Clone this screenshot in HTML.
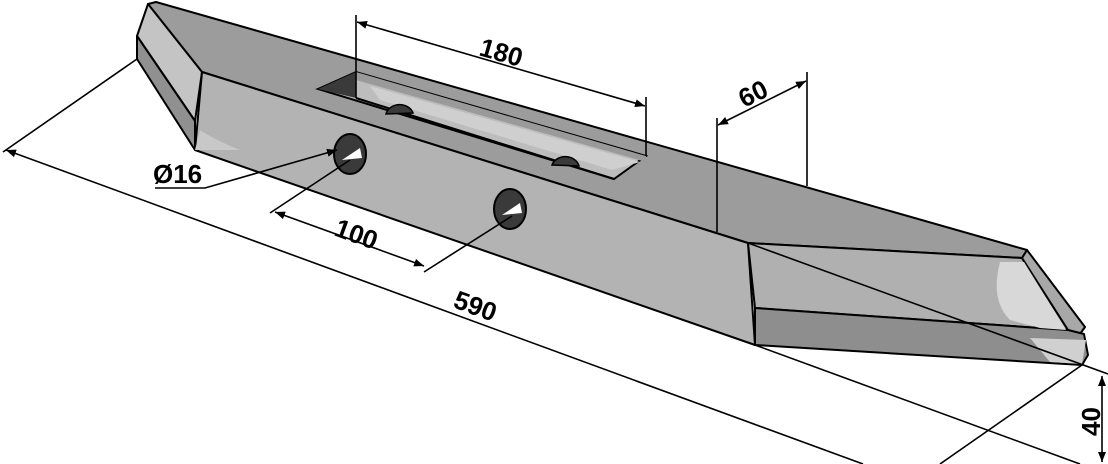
<!DOCTYPE html>
<html><head><meta charset="utf-8"><style>
html,body{margin:0;padding:0;background:#fff;}
svg{display:block;}
text{font-family:"Liberation Sans",sans-serif;font-weight:bold;font-size:26px;fill:#000;}
</style></head><body>
<svg width="1108" height="464" viewBox="0 0 1108 464" xmlns="http://www.w3.org/2000/svg">
<defs>
<marker id="a" viewBox="0 0 10 10" refX="10" refY="5" markerWidth="10" markerHeight="10" orient="auto-start-reverse" markerUnits="userSpaceOnUse"><path d="M0,1 L10,5 L0,9 z" fill="#000"/></marker>
</defs>
<g stroke="#000" stroke-width="2" stroke-linejoin="round">
<polygon points="148,4 156,2 1027,250 1022,258 748,243 202,72" fill="#9c9c9c"/>
<polygon points="148,4 137,36 195,121 202,72" fill="#c4c4c4"/>
<polygon points="137,36 137,59 195,150 195,121" fill="#909090"/>
<polygon points="202,72 748,243 755,345 195,150" fill="#b3b3b3"/>
<polygon points="748,243 1022,258 1068,330 755,308" fill="#b0b0b0"/>
<polygon points="1022,258 1027,250 1085,327 1080,334 1068,330" fill="#a8a8a8"/>
<polygon points="755,308 1068,330 1084,334 1088,355 1082,365 755,345" fill="#8e8e8e"/>
</g>
<path d="M1000,262 Q990,300 1010,320 L1040,328 L1066,330 L1024,262 z" fill="#d8d8d8"/>
<path d="M1030,338 Q1040,350 1050,362 L1082,364 L1086,340 z" fill="#d0d0d0"/>
<path d="M200,130 Q215,140 240,150 L195,150 z" fill="#c8c8c8"/>
<polygon points="318,89 356,72 646,156 614,179" fill="#bdbdbd" stroke="#000" stroke-width="2"/>
<polygon points="370,86 640,162 612,170 380,100" fill="#cfcfcf"/>
<polygon points="318,89 356,72 356,98" fill="#3a3a3a"/>
<polygon points="356,72 646,156 646,162 356,80" fill="#9a9a9a"/>
<line x1="356" y1="98" x2="614" y2="179" stroke="#000" stroke-width="2"/>
<path d="M386,114 A14,12 0 0 1 413,113 z" fill="#3a3a3a" stroke="#000" stroke-width="1.5"/>
<path d="M552,165 A14,12 0 0 1 579,166 z" fill="#3a3a3a" stroke="#000" stroke-width="1.5"/>
<ellipse cx="350" cy="154" rx="16" ry="20" fill="#3a3a3a" stroke="#000" stroke-width="2"/>
<path d="M342,160 L360,148 L362,158 z" fill="#fff"/>
<ellipse cx="510" cy="209" rx="16" ry="20" fill="#3a3a3a" stroke="#000" stroke-width="2"/>
<path d="M502,215 L520,203 L522,213 z" fill="#fff"/>
<g stroke="#000" stroke-width="1.6" fill="none">
<line x1="356" y1="15" x2="356" y2="98"/>
<line x1="646" y1="97" x2="646" y2="156"/>
<line x1="357" y1="22" x2="645" y2="106" marker-start="url(#a)" marker-end="url(#a)"/>
<line x1="717" y1="118" x2="717" y2="232"/>
<line x1="807" y1="72" x2="807" y2="186"/>
<line x1="718" y1="125" x2="806" y2="81" marker-start="url(#a)" marker-end="url(#a)"/>
<polyline points="155,188 205,188 337,150" marker-end="url(#a)"/>
<line x1="350" y1="160" x2="270" y2="213"/>
<line x1="512" y1="216" x2="424" y2="272"/>
<line x1="275" y1="212" x2="424" y2="266" marker-start="url(#a)" marker-end="url(#a)"/>
<line x1="137" y1="59" x2="3" y2="152"/>
<line x1="6" y1="150" x2="863" y2="464" marker-start="url(#a)"/>
<line x1="755" y1="345" x2="1080" y2="464"/>
<line x1="748" y1="243" x2="1108" y2="374"/>
<line x1="1082" y1="365" x2="940" y2="464"/>
<line x1="1102" y1="376" x2="1102" y2="462" marker-start="url(#a)" marker-end="url(#a)"/>
</g>
<text transform="translate(478,55) rotate(16)">180</text>
<text transform="translate(744,108) rotate(-26)">60</text>
<text x="153" y="183">Ø16</text>
<text transform="translate(333,235) rotate(20)">100</text>
<text transform="translate(452,307) rotate(20)">590</text>
<text transform="translate(1100,436) rotate(-90)">40</text>
</svg>
</body></html>
